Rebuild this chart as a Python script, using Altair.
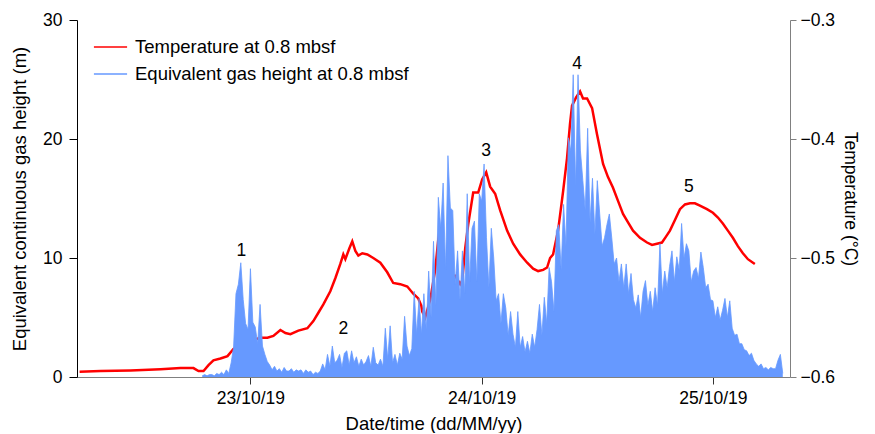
import altair as alt
import pandas as pd
import numpy as np

# ---------------- data ----------------
TEMP_NAME = "Temperature at 0.8 mbsf"
GAS_NAME = "Equivalent gas height at 0.8 mbsf"

# hours since 22/10/19 00:00
temp_hours = [6.27, 8.45, 11.56, 14.67, 16.74, 18.09, 18.61, 19.13, 19.65, 20.16,
              20.89, 21.62, 22.24, 22.96, 23.69, 24.31, 25.04, 25.76, 26.38, 27.11,
              27.63, 28.15, 28.98, 29.91, 30.53, 31.05, 31.57, 32.29, 32.81, 33.33,
              33.64, 33.85, 34.26, 34.57, 34.89, 35.20, 35.61, 36.13, 36.75, 37.48,
              38.20, 38.82, 39.55, 40.28, 40.90, 41.42, 41.73, 41.83, 42.14, 42.66,
              43.18, 43.49, 43.70, 44.01, 44.53, 45.25, 45.77, 45.98, 46.29, 46.60,
              47.12, 47.64, 48.05, 48.47, 48.88, 49.40, 49.92, 50.64, 51.27, 51.99,
              52.72, 53.34, 53.86, 54.38, 54.79, 55.10, 55.41, 55.93, 56.45, 56.86,
              57.17, 57.38, 57.80, 58.21, 58.52, 58.94, 59.46, 59.97, 60.60, 61.11,
              61.63, 62.15, 62.67, 63.19, 63.71, 64.43, 65.16, 65.68, 66.19, 66.71,
              67.13, 67.54, 68.06, 68.58, 69.10, 69.62, 70.13, 70.65, 71.38, 72.00,
              72.52, 73.03, 73.55, 74.07, 74.59, 75.11, 75.63, 76.35]
temp_c = [-0.5955, -0.5950, -0.5945, -0.5935, -0.5925, -0.5925, -0.5950, -0.5950, -0.5900, -0.5860,
          -0.5845, -0.5825, -0.5765, -0.5730, -0.5700, -0.5690, -0.5670, -0.5670, -0.5655, -0.5605,
          -0.5630, -0.5640, -0.5610, -0.5590, -0.5530, -0.5460, -0.5390, -0.5280, -0.5170, -0.5050,
          -0.4970, -0.5010, -0.4920, -0.4860, -0.4940, -0.4980, -0.4960, -0.4970, -0.5000, -0.5040,
          -0.5120, -0.5210, -0.5220, -0.5240, -0.5300, -0.5340, -0.5400, -0.5450, -0.5500, -0.5350,
          -0.5100, -0.4850, -0.4740, -0.5100, -0.5150, -0.5150, -0.5220, -0.5190, -0.4920, -0.4720,
          -0.4450, -0.4450, -0.4340, -0.4280, -0.4400, -0.4460, -0.4600, -0.4770, -0.4880, -0.4970,
          -0.5040, -0.5090, -0.5110, -0.5100, -0.5080, -0.5000, -0.4970, -0.4770, -0.4440, -0.4160,
          -0.3870, -0.3720, -0.3650, -0.3600, -0.3660, -0.3660, -0.3740, -0.3960, -0.4210, -0.4320,
          -0.4410, -0.4520, -0.4630, -0.4700, -0.4770, -0.4830, -0.4870, -0.4890, -0.4880, -0.4870,
          -0.4820, -0.4770, -0.4680, -0.4590, -0.4550, -0.4540, -0.4540, -0.4560, -0.4590, -0.4620,
          -0.4660, -0.4710, -0.4770, -0.4830, -0.4900, -0.4960, -0.5010, -0.5050]

# gas height samples every 15 min starting 22/10/19 19:00
gas_start_hour = 19.0
gas_step_hour = 0.25
gas_m = [
    0.1, 0.2, 0.1, 0.2,   0.2, 0.1, 0.3, 0.2,   0.4, 0.2, 0.6, 0.3,   1.2, 2.5, 7.0, 7.8,
    9.6, 6.5, 4.5, 4.0,   9.1, 4.6, 4.2, 2.8,   6.1, 2.6, 1.9, 1.3,   1.0, 0.6, 0.9, 0.5,
    0.7, 0.4, 0.8, 0.5,   0.5, 0.7, 0.4, 0.6,   0.5, 0.6, 0.3, 0.6,   0.4, 0.5, 0.2, 0.4,
    0.3, 0.5, 1.1, 0.6,   1.9, 0.9, 2.6, 1.2,   1.4, 1.9, 0.8, 2.0,   2.2, 1.0, 2.2, 1.2,
    1.7, 0.9, 1.5, 1.0,   1.3, 1.8, 0.9, 2.5,   1.2, 1.0, 1.5, 0.9,   4.1, 1.5, 4.3, 1.2,
    1.9, 1.0, 2.0, 1.5,   5.1, 2.6, 1.8, 2.4,   7.2, 3.6, 6.6, 3.6,   7.0, 4.0, 8.9, 5.0,
    11.4, 6.0, 15.1, 12.5, 16.3, 9.0, 18.6, 14.2, 14.0, 7.8, 10.6, 6.5, 10.6, 7.0, 15.4, 8.0,
    12.5, 13.1, 8.0, 15.4, 14.8, 17.9, 11.7, 7.5, 12.5, 10.0, 6.4, 7.0, 4.5, 7.0, 5.8, 3.5,
    5.5, 3.6, 2.5, 5.5,   2.5, 3.4, 2.1, 3.0,   2.0, 3.6, 2.5, 4.0,   6.1, 3.5, 6.7, 4.5,
    9.2, 8.0, 5.5, 12.3,  12.8, 9.0, 14.5, 11.0, 20.1, 19.0, 25.4, 16.0, 25.4, 19.0, 16.5, 14.0,
    20.9, 13.0, 16.7, 12.0, 16.5, 13.7, 11.0, 11.7, 12.8, 13.7, 11.7, 9.5, 10.0, 8.0, 9.5, 7.5,
    9.5, 7.0, 8.7, 6.5,   5.8, 6.9, 5.0, 7.2,   8.1, 6.0, 7.2, 5.5,   7.5, 6.0, 11.2, 7.0,
    8.9, 7.5, 9.3, 10.6,  8.0, 10.1, 9.0, 12.9, 10.0, 11.2, 10.6, 8.0, 8.9, 9.2, 8.3, 10.5,
    9.2, 7.5, 7.8, 6.5,   6.4, 5.0, 5.9, 4.8,   5.6, 6.6, 5.0, 6.4,   4.1, 3.5, 3.6, 2.8,
    2.8, 2.3, 2.2, 1.8,   2.0, 1.4, 1.1, 0.9,   1.1, 0.7, 0.8, 0.6,   0.8, 0.7, 0.7, 1.4,
    1.9, 0.3,
]

peak_labels = ["1", "2", "3", "4", "5"]
peak_hours = [23.07, 33.64, 48.47, 57.90, 69.50]
peak_m = [10.6, 4.0, 19.0, 26.3, 16.0]

left_ticks = [0, 10, 20, 30]
right_ticks = [-0.6, -0.5, -0.4, -0.3]

# ---------------- tables ----------------
T0 = pd.Timestamp("2019-10-22 00:00:00")
gas_hours = gas_start_hour + gas_step_hour * np.arange(len(gas_m))

temp_df = pd.DataFrame({
    "time": T0 + pd.to_timedelta(temp_hours, unit="h"),
    "temp": temp_c,
    "series": TEMP_NAME,
})
gas_df = pd.DataFrame({
    "time": T0 + pd.to_timedelta(gas_hours, unit="h"),
    "gas": gas_m,
})
lab_df = pd.DataFrame({
    "time": T0 + pd.to_timedelta(peak_hours, unit="h"),
    "gas": peak_m,
    "label": peak_labels,
})

FONT = "Liberation Sans"

x_enc = alt.X(
    "time:T",
    scale=alt.Scale(domain=[alt.DateTime(year=2019, month=10, date=22, hours=6),
                            alt.DateTime(year=2019, month=10, date=25, hours=8)]),
    axis=alt.Axis(
        values=[alt.DateTime(year=2019, month=10, date=23),
                alt.DateTime(year=2019, month=10, date=24),
                alt.DateTime(year=2019, month=10, date=25)],
        format="%d/%m/%y", title="Date/time (dd/MM/yy)", grid=False,
        domainColor="#808080", tickColor="#333333", tickSize=7,
        labelPadding=5, titlePadding=8,
    ),
)

temp_line = alt.Chart(temp_df).mark_line(strokeWidth=2.5).encode(
    x=x_enc,
    y=alt.Y("temp:Q",
            scale=alt.Scale(domain=[-0.6, -0.3], nice=False, zero=False),
            axis=alt.Axis(orient="right", values=right_ticks, format=".1f",
                          title="Temperature (°C)", grid=False,
                          domainColor="#808080", tickColor="#808080",
                          tickSize=6, labelPadding=4, titlePadding=6,
                          titleFontSize=17.5)),
    color=alt.Color("series:N",
                    scale=alt.Scale(domain=[TEMP_NAME, GAS_NAME], range=["#ff0000", "#6699ff"]),
                    legend=alt.Legend(orient="none", legendX=16, legendY=16, title=None,
                                      symbolType="stroke", symbolSize=1100,
                                      symbolStrokeWidth=1.5, labelFontSize=18.5,
                                      labelOffset=7, clipHeight=22, rowPadding=5,
                                      labelLimit=500,
                                      labelFont=FONT, labelColor="black")),
)

gas_area = alt.Chart(gas_df).mark_area(
    color="#6699ff", opacity=1,
    line={"color": "#6699ff", "strokeWidth": 0.8},
).encode(
    x=x_enc,
    y=alt.Y("gas:Q",
            scale=alt.Scale(domain=[0, 30], nice=False),
            axis=alt.Axis(orient="left", values=left_ticks,
                          title="Equivalent continuous gas height (m)", grid=False,
                          domainColor="black", tickColor="black",
                          tickSize=8, labelPadding=7, titlePadding=13)),
)

labels = alt.Chart(lab_df).mark_text(fontSize=17.5, font=FONT, color="black").encode(
    x=x_enc,
    y=alt.Y("gas:Q", scale=alt.Scale(domain=[0, 30], nice=False), axis=None),
    text="label:N",
)

chart = alt.layer(temp_line, gas_area, labels).resolve_scale(
    y="independent"
).properties(
    width=713, height=357,
    padding={"left": 2, "top": 3, "right": 3, "bottom": 0},
).configure_view(stroke=None).configure_axis(
    labelFont=FONT, titleFont=FONT, labelFontSize=17.5, titleFontSize=18.5,
    labelColor="black", titleColor="black", titleFontWeight="normal",
)

chart.save("out.html", embed_options={"renderer": "svg", "actions": False})
